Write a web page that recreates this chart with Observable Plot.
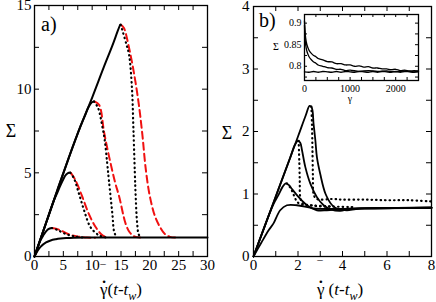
<!DOCTYPE html>
<html><head><meta charset="utf-8">
<script src="https://cdn.jsdelivr.net/npm/d3@7"></script>
<script src="https://cdn.jsdelivr.net/npm/@observablehq/plot@0.6"></script>
<style>
body{margin:0;background:#fff;}
#chart{position:relative;width:436px;height:302px;font-family:'Liberation Serif',serif;}
#chart svg{position:absolute;overflow:visible;}
</style></head><body><div id="chart"></div>
<script>
// ---------- Panel a) data ----------
const aXTicks = [0,5,10,15,20,25,30];
const aXMinor = [2.5,7.5,12.5,17.5,22.5,27.5];
const aYTicks = [0,5,10,15];
const aYMinor = [2.5,7.5,12.5];
const aBase  = [[0,0],[0.5,0.32],[1,0.56],[2,0.84],[2.8,0.96],[3.7,1.03],[4.5,1.07],[5.5,1.1],[6.8,1.12],[9,1.13],[15,1.13],[30,1.13]];
const aRise1 = [[0,0],[0.5,0.5],[1,0.94],[1.5,1.25],[1.9,1.46],[2.4,1.63],[3.0,1.7]];
const aRise2 = [[0,0],[2,2],[3.4,3.38],[4.0,3.85],[4.5,4.26],[5.0,4.62],[5.4,4.86],[5.8,4.98],[6.2,5.02]];
const aRise3 = [[0,0],[2,2],[4,4],[6,5.95],[8,7.8],[8.7,8.38],[9.4,8.95],[9.9,9.2],[10.3,9.27]];
const aRise4 = [[0,0],[2,2],[4,4],[6,5.95],[8,7.8],[10,9.5],[12,11.3],[13.5,12.6],[14.4,13.45],[14.85,13.85]];
const aDash1 = [[3.05,1.7],[4.3,1.6],[5.7,1.36],[7.4,1.2],[9.1,1.13],[10.5,1.12]];
const aDot1  = [[3.0,1.7],[4.0,1.58],[5.5,1.33],[7.0,1.2],[8.6,1.13]];
const aDash2 = [[6.3,5.0],[7.1,4.56],[8.3,3.56],[9.4,2.56],[10.6,1.76],[11.8,1.26],[12.8,1.14]];
const aDot2  = [[6.2,5.0],[6.8,4.7],[7.7,3.76],[8.6,2.76],[9.7,1.76],[11.2,1.26],[12.3,1.14]];
const aDash3 = [[10.4,9.26],[11.2,9.06],[12.05,7.46],[12.6,6.5],[13.2,5.56],[14.0,4.4],[14.7,3.56],[15.8,1.96],[16.5,1.45],[17.3,1.2],[18.3,1.13]];
const aDot3  = [[10.3,9.26],[11.0,8.9],[11.8,7.7],[12.2,6.9],[12.6,5.6],[12.9,4.56],[13.5,2.56],[13.8,1.5],[14.2,1.15]];
const aDash4 = [[15.0,13.85],[15.5,13.66],[16.4,12.46],[17.3,10.86],[18.1,9.06],[18.7,7.3],[19.3,5.2],[20.0,3.6],[20.9,2.4],[21.8,1.74],[22.6,1.35],[23.5,1.17],[24.5,1.13]];
const aDot4  = [[14.95,13.85],[15.2,13.56],[16.0,12.6],[16.4,12.06],[16.9,10.06],[17.15,7.66],[17.4,5.0],[17.55,3.56],[17.8,2.0],[18.1,1.3],[18.6,1.13]];

// ---------- Panel b) data ----------
const bXTicks = [0,2,4,6,8];
const bXMinor = [1,3,5,7];
const bYTicks = [0,1,2,3,4];
const bYMinor = [0.5,1.5,2.5,3.5];
const bSolid0 = [[0,0],[0.35,0.22],[0.68,0.42],[0.9,0.53],[1.2,0.74],[1.5,0.82],[1.95,0.82],[2.7,0.77],[3.5,0.76],[5,0.77],[8,0.78]];
const bSolid1 = [[0,0],[0.7,0.67],[0.9,0.84],[1.13,0.99],[1.3,1.11],[1.45,1.17],[1.6,1.14],[1.73,1.08],[2.03,0.95],[2.4,0.82],[2.85,0.74],[3.3,0.74],[4,0.76],[5,0.77],[8,0.78]];
const bSolid2 = [[0,0],[1,0.96],[1.65,1.58],[1.85,1.78],[2.0,1.85],[2.1,1.82],[2.18,1.7],[2.33,1.43],[2.55,1.17],[2.85,0.95],[3.15,0.82],[3.5,0.75],[3.9,0.73],[4.3,0.76],[5,0.77],[8,0.78]];
const bSolid3 = [[0,0],[1,0.96],[2,1.92],[2.35,2.26],[2.52,2.41],[2.62,2.38],[2.7,2.12],[2.78,1.86],[2.85,1.59],[3.0,1.32],[3.24,1.0],[3.54,0.82],[3.8,0.76],[4.2,0.74],[4.6,0.76],[5,0.77],[8,0.78]];
const bDot1 = [[1.5,1.17],[1.62,1.12],[1.73,1.05],[1.85,0.95],[1.97,0.87],[2.2,0.83],[2.6,0.82],[3.0,0.8],[3.5,0.8]];
const bDot2 = [[2.03,1.85],[2.06,1.5],[2.08,1.2],[2.1,0.95],[2.2,0.85],[2.5,0.82],[3,0.81],[3.5,0.8],[4.5,0.79]];
const bDot3 = [[2.6,2.4],[2.63,2.1],[2.65,1.7],[2.67,1.3],[2.7,1.0],[2.8,0.93],[3.0,0.91],[3.5,0.92],[4,0.91],[5,0.91],[6,0.9],[7,0.9],[8,0.88]];

// ---------- Inset data ----------
const iXTicks = [0,1000,2000];
const iXMinor = [250,500,750,1250,1500,1750,2250];
const iYTicks = [0.8,0.85,0.9];
const iYMinor = [0.775,0.825,0.875];
const iTop = [[0,0.905],[10,0.885],[25,0.866],[50,0.851],[75,0.843],[100,0.837],[150,0.830],[200,0.825],[250,0.822],[300,0.818],[400,0.815],[500,0.811],[600,0.810],[700,0.806],[800,0.806],[900,0.803],[1000,0.803],[1100,0.800],[1200,0.801],[1300,0.798],[1400,0.799],[1500,0.796],[1600,0.796],[1700,0.794],[1800,0.794],[1900,0.792],[2000,0.793],[2100,0.790],[2200,0.791],[2300,0.789],[2400,0.790],[2500,0.789]];
const iMid = [[0,0.895],[10,0.870],[25,0.850],[50,0.836],[75,0.828],[100,0.822],[150,0.815],[200,0.810],[250,0.807],[300,0.803],[400,0.800],[500,0.797],[600,0.796],[700,0.793],[800,0.793],[900,0.790],[1000,0.791],[1200,0.788],[1400,0.790],[1600,0.788],[1800,0.789],[2000,0.787],[2200,0.789],[2400,0.787],[2500,0.788]];
const iLow = [[0,0.787],[100,0.786],[200,0.788],[300,0.786],[400,0.788],[500,0.787],[600,0.786],[700,0.788],[800,0.786],[900,0.788],[1000,0.787],[1100,0.786],[1200,0.788],[1300,0.787],[1400,0.786],[1500,0.788],[1600,0.786],[1700,0.788],[1800,0.787],[1900,0.786],[2000,0.788],[2100,0.786],[2200,0.788],[2300,0.787],[2400,0.786],[2500,0.787]];

const FONT = "'Liberation Serif', serif";
const RED = "#f01010";

function solid(d, w=2){ return Plot.line(d,{x:p=>p[0],y:p=>p[1],stroke:"black",strokeWidth:w,curve:"catmull-rom"}); }
function dotted(d, w=2.2){ return Plot.line(d,{x:p=>p[0],y:p=>p[1],stroke:"black",strokeWidth:w,strokeDasharray:"0.5,4",strokeLinecap:"round",curve:"catmull-rom"}); }
function dashed(d){ return Plot.line(d,{x:p=>p[0],y:p=>p[1],stroke:RED,strokeWidth:2,strokeDasharray:"7,4",curve:"catmull-rom"}); }

function panel(o){
  const ih = o.height - o.mt - o.mb, iw = o.width - o.ml - o.mr;
  const L = o.tickLen;
  const allX = o.xTicks.concat(o.xMinor), allY = o.yTicks.concat(o.yMinor);
  return Plot.plot({
    width:o.width, height:o.height,
    marginLeft:o.ml, marginRight:o.mr, marginTop:o.mt, marginBottom:o.mb,
    x:{domain:o.xDomain}, y:{domain:o.yDomain},
    style:{fontFamily:FONT, fontSize:o.fontSize+"px", background:"transparent", color:"black", overflow:"visible"},
    marks:[
      ...o.marks,
      Plot.axisX(o.xTicks,{anchor:"bottom", tickSize:0, tickPadding:o.xPad, label:null, tickFormat:o.xFormat, fill:"black"}),
      Plot.axisY(o.yTicks,{anchor:"left", tickSize:0, tickPadding:o.yPad, label:null, tickFormat:o.yFormat, fill:"black"}),
      Plot.tickX(allX,{x:d=>d, insetTop:ih-L, stroke:"black", strokeWidth:1}),
      Plot.tickX(allX,{x:d=>d, insetBottom:ih-L, stroke:"black", strokeWidth:1}),
      Plot.tickY(allY,{y:d=>d, insetRight:iw-L, stroke:"black", strokeWidth:1}),
      Plot.tickY(allY,{y:d=>d, insetLeft:iw-L, stroke:"black", strokeWidth:1}),
      Plot.frame({stroke:"black", strokeWidth:1.3})
    ]
  });
}

const chart = document.getElementById("chart");

const left = panel({width:215,height:275,ml:34,mr:8,mt:5,mb:19,
  xDomain:[0,30], yDomain:[0,15], xTicks:aXTicks, xMinor:aXMinor, yTicks:aYTicks, yMinor:aYMinor,
  fontSize:15, tickLen:5, xPad:3, yPad:3, xFormat:d=>String(d), yFormat:d=>String(d),
  marks:[
    dashed(aDash1), dashed(aDash2), dashed(aDash3), dashed(aDash4),
    dotted(aDot1), dotted(aDot2), dotted(aDot3), dotted(aDot4),
    solid(aBase), solid(aRise1), solid(aRise2), solid(aRise3), solid(aRise4)
  ]});
left.style.left="0px"; left.style.top="0px";
chart.appendChild(left);

const right = panel({width:221,height:275,ml:38,mr:5,mt:6,mb:19,
  xDomain:[0,8], yDomain:[0,4], xTicks:bXTicks, xMinor:bXMinor, yTicks:bYTicks, yMinor:bYMinor,
  fontSize:15, tickLen:5, xPad:3, yPad:4, xFormat:d=>String(d), yFormat:d=>String(d),
  marks:[
    dotted(bDot1), dotted(bDot2), dotted(bDot3),
    solid(bSolid0,1.8), solid(bSolid1,1.8), solid(bSolid2,1.8), solid(bSolid3,1.8)
  ]});
right.style.left="215px"; right.style.top="0px";
chart.appendChild(right);

const inset = panel({width:152,height:95,ml:34,mr:4,mt:4,mb:25,
  xDomain:[0,2500], yDomain:[0.767,0.92], xTicks:iXTicks, xMinor:iXMinor, yTicks:iYTicks, yMinor:iYMinor,
  fontSize:10, tickLen:3, xPad:4, yPad:3, xFormat:d=>String(d), yFormat:d=>String(d),
  marks:[
    solid(iLow,1.4), solid(iMid,1.3), solid(iTop,1.3)
  ]});
inset.style.left="270px"; inset.style.top="10px";
chart.appendChild(inset);

// ---------- text overlay ----------
const ov = d3.select(chart).append("svg").attr("width",436).attr("height",302)
  .style("left","0px").style("top","0px").attr("font-family",FONT).attr("fill","black");

ov.append("text").attr("x",11).attr("y",137).attr("text-anchor","middle").attr("font-size",18).text("Σ");
ov.append("text").attr("x",227).attr("y",139).attr("text-anchor","middle").attr("font-size",18).text("Σ");
ov.append("text").attr("x",41).attr("y",31).attr("font-size",20).text("a)");
ov.append("text").attr("x",259).attr("y",27).attr("font-size",20).text("b)");
ov.append("text").attr("x",276).attr("y",50).attr("text-anchor","middle").attr("font-size",10).text("Σ");
ov.append("text").attr("x",350).attr("y",102).attr("text-anchor","middle").attr("font-size",10).text("γ");

function xLabel(cx, gap){
  const t = ov.append("text").attr("x",cx).attr("y",295).attr("text-anchor","middle").attr("font-size",17);
  t.append("tspan").text("γ");
  t.append("tspan").attr("dx",-6.3).attr("dy",-3).attr("font-weight","bold").text("\u02D9");
  t.append("tspan").attr("dx",0.6).attr("dy",3).text(gap + "(");
  t.append("tspan").attr("font-style","italic").text("t");
  t.append("tspan").text("-");
  t.append("tspan").attr("font-style","italic").text("t");
  t.append("tspan").attr("font-style","italic").attr("font-size",12).attr("dy",5).text("w");
  t.append("tspan").attr("dy",-5).text(")");
}
xLabel(121, "");
xLabel(340, " ");
ov.append("text").attr("x",103).attr("y",263).attr("text-anchor","middle").attr("font-size",11).text("_");
ov.append("text").attr("x",320).attr("y",259).attr("text-anchor","middle").attr("font-size",11).text("_");
</script></body></html>
